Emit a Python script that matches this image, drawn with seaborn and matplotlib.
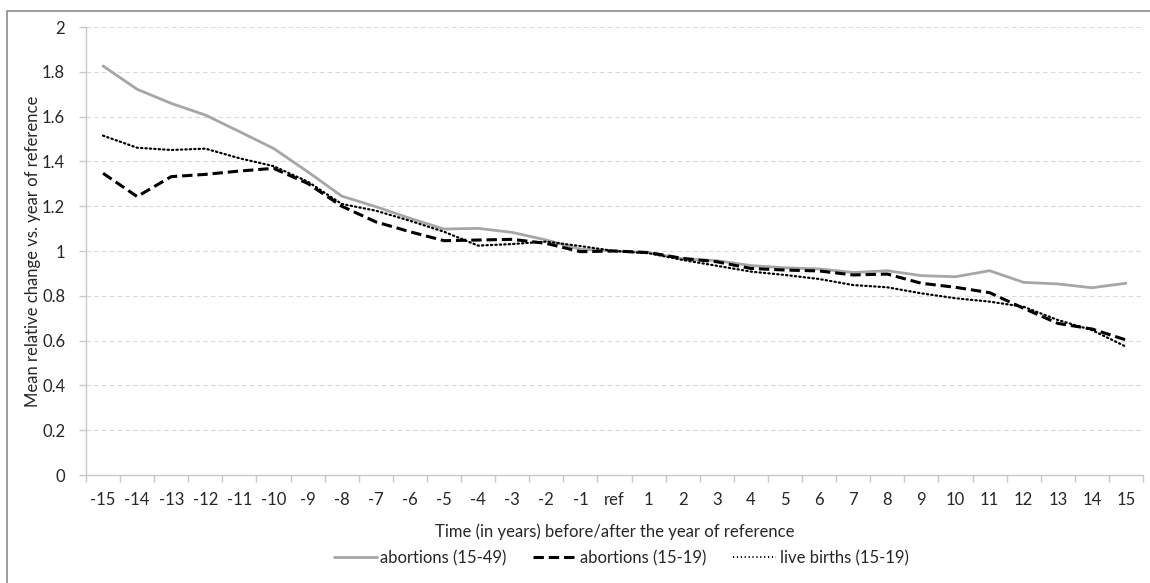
import numpy as np
import pandas as pd
import seaborn as sns
import matplotlib
matplotlib.use('Agg')
import matplotlib.pyplot as plt
from matplotlib.patches import Rectangle

# Categories: years before/after the year of reference
years = [str(i) for i in range(-15, 0)] + ['ref'] + [str(i) for i in range(1, 16)]

abortions_15_49 = [1.826, 1.722, 1.659, 1.607, 1.533, 1.458, 1.354, 1.245, 1.198, 1.146,
                   1.098, 1.101, 1.083, 1.049, 1.008, 1.0, 0.993, 0.965, 0.957, 0.935,
                   0.925, 0.920, 0.904, 0.912, 0.890, 0.885, 0.912, 0.860, 0.853, 0.836, 0.856]
abortions_15_19 = [1.347, 1.243, 1.332, 1.342, 1.357, 1.369, 1.302, 1.200, 1.130, 1.086,
                   1.046, 1.049, 1.052, 1.034, 0.997, 1.0, 0.993, 0.967, 0.952, 0.922,
                   0.915, 0.911, 0.893, 0.897, 0.856, 0.838, 0.814, 0.744, 0.677, 0.652, 0.603]
live_births_15_19 = [1.515, 1.461, 1.451, 1.457, 1.414, 1.379, 1.310, 1.210, 1.180, 1.135,
                     1.086, 1.024, 1.031, 1.042, 1.022, 1.0, 0.990, 0.960, 0.934, 0.908,
                     0.893, 0.875, 0.848, 0.838, 0.811, 0.789, 0.774, 0.751, 0.692, 0.647, 0.573]

series_names = ['abortions (15-49)', 'abortions (15-19)', 'live births (15-19)']

df = pd.DataFrame({
    'year': years * 3,
    'value': abortions_15_49 + abortions_15_19 + live_births_15_19,
    'series': [series_names[0]] * 31 + [series_names[1]] * 31 + [series_names[2]] * 31,
})

sns.set_style('white')
plt.rcParams['font.family'] = ['Lato', 'DejaVu Sans']
text_color = '#262626'
axis_color = '#c8c8c8'
fs = 12

fig = plt.figure(figsize=(11.5, 5.83), dpi=100)
ax = fig.add_axes([86 / 1150, 1 - 475 / 583, (1143 - 86) / 1150, (475 - 27) / 583])

palette = {series_names[0]: '#a6a6a6', series_names[1]: '#000000', series_names[2]: '#000000'}
dashes = {series_names[0]: '', series_names[1]: (3.4, 1.6), series_names[2]: (0.6, 1.4)}

sns.lineplot(data=df, x='year', y='value', hue='series', style='series',
             palette=palette, dashes=dashes, sort=False, ax=ax, legend=False)
widths = [2.0, 2.2, 1.6]
for line, w in zip(ax.get_lines(), widths):
    line.set_linewidth(w)
    line.set_dash_capstyle('butt')
ax.get_lines()[2].set_dash_capstyle('round')

# Axes ranges and ticks
ax.set_xlim(-0.5, len(years) - 0.5)
ax.set_ylim(0, 2)
yt = np.round(np.arange(0, 2.01, 0.2), 1)
ax.set_yticks(yt)
ax.set_yticklabels(['0' if v == 0 else ('%g' % v) for v in yt])
ax.set_xticks(range(len(years)))
ax.set_xticklabels(years)
ax.set_xticks(np.arange(-0.5, len(years), 1.0), minor=True)
ax.tick_params(axis='x', which='major', length=0, pad=12, labelsize=fs, colors=text_color)
ax.tick_params(axis='x', which='minor', length=5, width=1, color=axis_color, direction='out', bottom=True)
ax.tick_params(axis='y', which='major', length=5, width=1, color=axis_color, pad=10,
               labelsize=fs, labelcolor=text_color, left=True)

# Gridlines
for v in yt[1:]:
    ax.axhline(v, color='#dadada', lw=0.8, ls=(0, (4, 3)), zorder=0)

for side in ['top', 'right']:
    ax.spines[side].set_visible(False)
for side in ['left', 'bottom']:
    ax.spines[side].set_color(axis_color)
    ax.spines[side].set_linewidth(1)

ax.set_xlabel('Time (in years) before/after the year of reference', fontsize=fs,
              color=text_color, labelpad=11)
ax.set_ylabel('Mean relative change vs. year of reference', fontsize=fs,
              color=text_color, labelpad=1)

# Legend below the chart
handles = [plt.Line2D([], [], color='#a6a6a6', lw=2.0),
           plt.Line2D([], [], color='#000000', lw=2.2, ls=(0, (3.4, 1.6))),
           plt.Line2D([], [], color='#000000', lw=1.4, ls=(0, (0.6, 1.4)))]
leg = fig.legend(handles, series_names, loc='center', bbox_to_anchor=(0.54, 0.043), ncol=3,
                 frameon=False, fontsize=fs, handlelength=2.6, handletextpad=0.2,
                 columnspacing=1.6)
for t in leg.get_texts():
    t.set_color(text_color)

# Outer chart border
fig.patches.append(Rectangle((7 / 1150, -0.05), 1.1, 1 - 11 / 583 + 0.05,
                             transform=fig.transFigure, fill=False,
                             edgecolor='#8c8c8c', lw=1.2))

fig.savefig('out.png', dpi=100)
